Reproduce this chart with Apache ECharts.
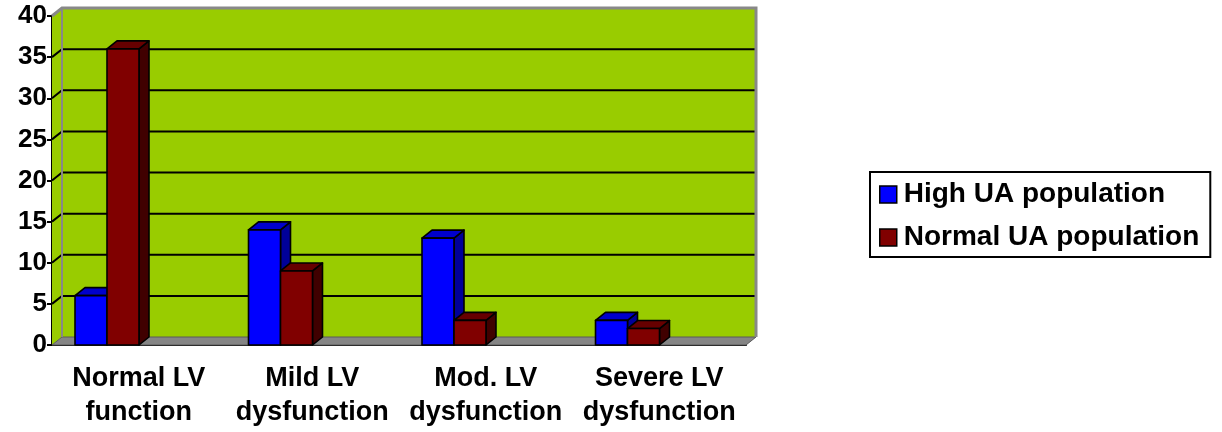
<!DOCTYPE html>
<html>
<head>
<meta charset="utf-8">
<script src="https://cdn.jsdelivr.net/npm/echarts@6/dist/echarts.min.js"></script>
<style>
  html, body { margin: 0; padding: 0; background: #fff; }
  #main { width: 1222px; height: 432px; }
</style>
</head>
<body>
<div id="main"></div>
<script>
var categories = ['Normal LV\nfunction', 'Mild LV\ndysfunction', 'Mod. LV\ndysfunction', 'Severe LV\ndysfunction'];
var highUA = [6, 14, 13, 3];
var normalUA = [36, 9, 3, 2];
var gridTicks = [5, 10, 15, 20, 25, 30, 35];

// 3D depth offset
var DX = 10, DY = -8;
var BAR_START = 0.1326, BAR_W = 0.1844;

var myChart = echarts.init(document.getElementById('main'));

// walls, floor and gridlines
function renderWalls(params, api) {
  if (params.dataIndex !== 0) return;
  var cs = params.coordSys;
  var x = cs.x, y = cs.y, w = cs.width, h = cs.height;
  var kids = [];
  kids.push({ type: 'polygon', shape: { points: [[x, y + h], [x + DX, y + h + DY], [x + DX, y + DY], [x, y]] },
    style: { fill: '#99CC00', stroke: null } });
  kids.push({ type: 'rect', shape: { x: x + DX, y: y + DY, width: w, height: h },
    style: { fill: '#99CC00', stroke: null } });
  kids.push({ type: 'polygon', shape: { points: [[x, y + h], [x + w, y + h], [x + w + DX, y + h + DY], [x + DX, y + h + DY]] },
    style: { fill: '#858585', stroke: '#5a5a5a', lineWidth: 1 } });
  gridTicks.forEach(function (v) {
    var yy = api.coord([0, v])[1];
    kids.push({ type: 'polyline', shape: { points: [[x, yy], [x + DX, yy + DY], [x + DX + w, yy + DY]] },
      style: { stroke: '#000', lineWidth: 2, fill: null } });
  });
  // gray edges of the wall
  kids.push({ type: 'polyline', shape: { points: [[x, y], [x + DX, y + DY], [x + DX + w, y + DY], [x + DX + w, y + h + DY]] },
    style: { stroke: '#888', lineWidth: 3, fill: null } });
  kids.push({ type: 'line', shape: { x1: x + DX, y1: y + DY, x2: x + DX, y2: y + h + DY },
    style: { stroke: '#888', lineWidth: 2 } });
  return { type: 'group', children: kids };
}

function makeBarRenderer(slot, front, top, side) {
  return function (params, api) {
    var idx = api.value(0), val = api.value(1);
    var p0 = api.coord([idx, 0]);
    var p1 = api.coord([idx, val]);
    var bw = api.size([1, 0])[0];
    var bx = p0[0] - bw / 2 + bw * (BAR_START + slot * BAR_W);
    var w = bw * BAR_W;
    var y0 = p0[1], y1 = p1[1];
    var st = { stroke: '#000', lineWidth: 1.6, lineJoin: 'round' };
    return {
      type: 'group',
      children: [
        { type: 'polygon', shape: { points: [[bx + w, y1], [bx + w + DX, y1 + DY], [bx + w + DX, y0 + DY], [bx + w, y0]] },
          style: Object.assign({ fill: side }, st) },
        { type: 'polygon', shape: { points: [[bx, y1], [bx + DX, y1 + DY], [bx + w + DX, y1 + DY], [bx + w, y1]] },
          style: Object.assign({ fill: top }, st) },
        { type: 'rect', shape: { x: bx, y: y1, width: w, height: y0 - y1 },
          style: Object.assign({ fill: front }, st) }
      ]
    };
  };
}

var option = {
  backgroundColor: '#fff',
  animation: false,
  textStyle: { fontFamily: 'Liberation Sans, Arial, sans-serif' },
  grid: { left: 52, right: 476, top: 16, bottom: 87 },
  legend: {
    orient: 'vertical',
    left: 870,
    top: 172,
    padding: [7, 11, 4, 9],
    itemGap: 12,
    itemWidth: 17,
    itemHeight: 17,
    borderColor: '#000',
    borderWidth: 2,
    icon: 'rect',
    itemStyle: { borderColor: '#000', borderWidth: 1.5 },
    textStyle: { fontSize: 28, fontWeight: 'bold', color: '#000', lineHeight: 31, padding: [0, 0, 0, 2],
      fontFamily: 'Liberation Sans, Arial, sans-serif' },
    data: ['High UA population', 'Normal UA population']
  },
  xAxis: {
    type: 'category',
    data: categories,
    axisLine: { lineStyle: { color: '#000', width: 2 } },
    axisTick: { length: 7, lineStyle: { color: '#000', width: 2 } },
    axisLabel: { color: '#000', fontSize: 27, fontWeight: 'bold', lineHeight: 34, margin: 17, interval: 0 }
  },
  yAxis: {
    type: 'value',
    min: 0,
    max: 40,
    interval: 5,
    axisLine: { show: true, lineStyle: { color: '#000', width: 2 } },
    axisTick: { show: true, length: 5, lineStyle: { color: '#000', width: 2 } },
    axisLabel: { color: '#000', fontSize: 26, fontWeight: 'bold', margin: 5 },
    splitLine: { show: false }
  },
  series: [
    {
      type: 'custom',
      name: 'walls',
      renderItem: renderWalls,
      data: [[0, 0]],
      silent: true,
      z: 1
    },
    {
      type: 'custom',
      name: 'High UA population',
      itemStyle: { color: '#0000FF' },
      renderItem: makeBarRenderer(0, '#0000FF', '#0000CC', '#000099'),
      data: highUA.map(function (v, i) { return [i, v]; }),
      z: 2
    },
    {
      type: 'custom',
      name: 'Normal UA population',
      itemStyle: { color: '#800000' },
      renderItem: makeBarRenderer(1, '#800000', '#660000', '#400000'),
      data: normalUA.map(function (v, i) { return [i, v]; }),
      z: 3
    }
  ]
};

myChart.setOption(option);
window.onresize = function () {
  myChart.resize();
};
</script>
</body>
</html>
